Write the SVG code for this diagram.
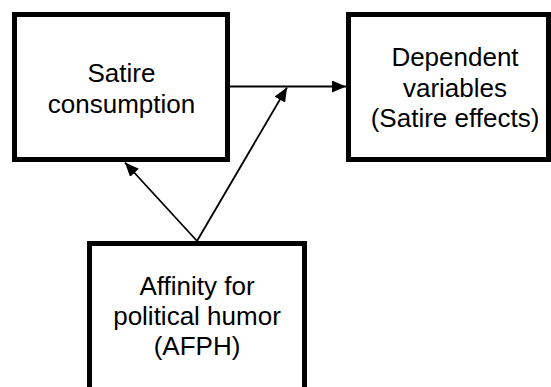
<svg xmlns="http://www.w3.org/2000/svg" width="551" height="387" viewBox="0 0 551 387">
<style>
.box{fill:#fff;stroke:#000;stroke-width:5;stroke-linejoin:miter}
.lbl{font-family:"Liberation Sans",Arial,sans-serif;font-size:26px;fill:#000;text-anchor:middle}
.edge{stroke:#000;stroke-width:1.8;fill:none}
</style>
<defs>
<marker id="arr" viewBox="0 0 14 12" refX="14" refY="6" markerWidth="14" markerHeight="12" markerUnits="userSpaceOnUse" orient="auto">
<path d="M0,0 L14,6 L0,12 Z" fill="#000"/>
</marker>
</defs>
<rect width="551" height="387" fill="#fff"/>
<g id="connectors">
<line class="edge" x1="230" y1="86.5" x2="346" y2="86.5" marker-end="url(#arr)"/>
<line class="edge" x1="197" y1="241" x2="125" y2="162.5" marker-end="url(#arr)"/>
<line class="edge" x1="197" y1="241" x2="287" y2="87.5" marker-end="url(#arr)"/>
</g>
<g id="satire-consumption">
<rect class="box" x="14.5" y="14.5" width="213" height="145"/>
<text class="lbl" x="121.5" y="81.5">Satire</text>
<text class="lbl" x="121.5" y="112.5">consumption</text>
</g>
<g id="dependent-variables">
<rect class="box" x="348.5" y="14.5" width="200" height="145"/>
<text class="lbl" x="455" y="66">Dependent</text>
<text class="lbl" x="455" y="96.5">variables</text>
<text class="lbl" x="455" y="127">(Satire effects)</text>
</g>
<g id="afph">
<rect class="box" x="89.5" y="243.5" width="215" height="160"/>
<text class="lbl" x="197" y="295">Affinity for</text>
<text class="lbl" x="197" y="325">political humor</text>
<text class="lbl" x="197" y="355">(AFPH)</text>
</g>
</svg>
